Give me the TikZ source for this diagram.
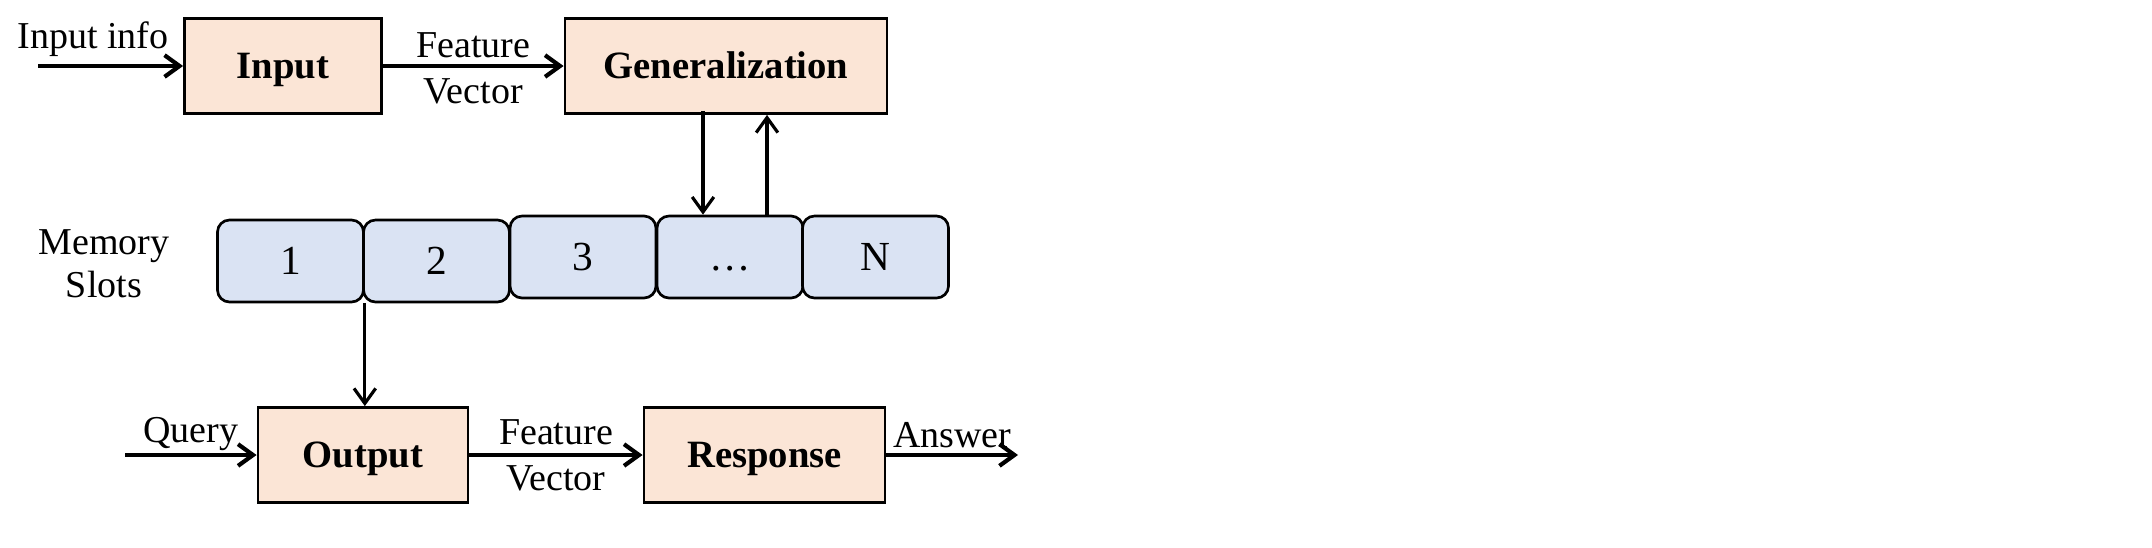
\documentclass[tikz,border=0pt]{standalone}
\usepackage{fontspec}
\setmainfont{Liberation Serif}
\usepackage{xcolor}
\usetikzlibrary{arrows.meta, positioning, calc}

\definecolor{boxpeach}{HTML}{FBE5D6}
\definecolor{slotblue}{HTML}{DAE3F3}

\tikzset{
  block/.style={draw, line width=0.85pt, fill=boxpeach, font=\fontsize{11.6}{13.5}\selectfont\bfseries, minimum height=28.5pt, text height=7.6pt, text depth=0pt},
  slotbox/.style={draw, line width=0.8pt, rounded corners=3.6pt, fill=slotblue, minimum width=43.8pt, minimum height=24.6pt, font=\fontsize{12.4}{14}\selectfont, text height=8.2pt, text depth=0pt},
  flow/.style={->, line width=1.25pt},
  link/.style={->, line width=0.95pt}
}

\begin{document}
\begin{tikzpicture}[x=0.3pt, y=-0.3pt, >={Straight Barb[length=4.5pt, width=6.5pt]}, every node/.style={font=\fontsize{11.4}{13.8}\selectfont}]
\useasboundingbox (0,0) rectangle (2152,547);

% upper row: input and generalization
\node[block, minimum width=59.1pt] (inp) at (283,66) {Input};
\node[block, minimum width=96.6pt] (gen) at (726,66) {Generalization};
\coordinate (src) at (38,66);
\node (srclab) at (93,39) {Input info};
\draw[flow] (src) -- (inp);
\draw[flow] (inp) -- node[align=center, yshift=-0.6pt] {Feature\\Vector} (gen);

% memory slots
\node[align=center, font=\fontsize{11.4}{12.9}\selectfont] (memlab) at (104,264) {Memory\\Slots};
\foreach \i/\lab/\yy/\xx in {1/1/261/290.5, 2/2/261/436.5, 3/3/257/583, 4/…/257/730, 5/N/257/875.5}
  \node[slotbox] (s\i) at (\xx,\yy) {\lab};

\draw[link] ($(gen.south)+(-23,-4)$) -- ($(s4.north)+(-27,0)$);
\draw[link] ($(s4.north)+(37,0)$) -- ($(gen.south)+(41,0)$);

% lower row: output and response
\node[block, minimum width=63pt] (out) at (363,455) {Output};
\node[block, minimum width=72.3pt] (resp) at (764.5,455) {Response};
\coordinate (qry) at (125,455);
\coordinate (ans) at (1018,455);
\draw[link] (s1.south east) -- (s1.south east |- out.north);
\draw[flow] (qry) -- node[above, inner sep=0.8pt] {Query} (out);
\draw[flow] (out) -- node[align=center] {Feature\\Vector} (resp);
\draw[flow] (resp) -- node[above, inner sep=1.5pt] {Answer} (ans);
\end{tikzpicture}
\end{document}
